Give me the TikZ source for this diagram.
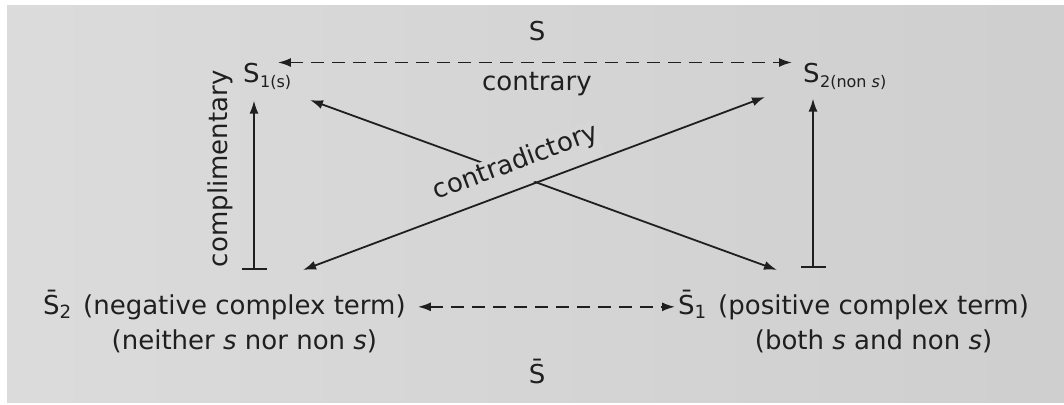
\documentclass[tikz,border=0pt]{standalone}
\usepackage{fontspec}
\setmainfont{DejaVu Sans}
\usepackage{xcolor}
\usepackage{tikz}
\usetikzlibrary{arrows.meta,positioning}
\colorlet{paper}{black!17}
\colorlet{ink}{black!88}
\tikzset{>={Latex[length=13pt,width=9pt]}}

\begin{document}
\begin{tikzpicture}[x=1pt,y=-1pt,font=\fontsize{26}{31}\selectfont,
    term/.style={inner sep=0pt,text=ink},
    subterm/.style={inner sep=0pt,text=ink,font=\fontsize{16}{19}\selectfont},
    link/.style={line width=1.8pt,draw=ink},
    dashlink/.style={link,dash pattern=on 13pt off 8pt}]
        % Page
        \useasboundingbox (0,0) rectangle (1064,404);
        \fill[white] (0,0) rectangle (1064,404);
        \shade[left color=black!14,right color=black!19] (7,6) rectangle (1064,402);
        % Terms
        \node[term,anchor=base] (sTop) at (537,41) {S};
        \node[term,anchor=base west] (s1) at (243,82) {S};
        \node[subterm,anchor=base west] (s1sub) at ([yshift=-5pt]s1.base east) {1(s)};
        \node[term,anchor=base west] (s2) at (803,82) {S};
        \node[subterm,anchor=base west] (s2sub) at ([yshift=-5pt]s2.base east) {2(non \textit{s})};
        \node[term,anchor=base west] (bs2) at (43,314) {\={S}\textsubscript{2}};
        \node[term,base right=11pt of bs2] (neg) {(negative complex term)};
        \node[term,anchor=base] (neither) at ([yshift=-35pt]neg.base) {(neither \textit{s} nor non \textit{s})};
        \node[term,anchor=base west] (bs1) at (678,314) {\={S}\textsubscript{1}};
        \node[term,base right=11pt of bs1] (pos) {(positive complex term)};
        \node[term,anchor=base] (both) at ([yshift=-35pt]pos.base) {(both \textit{s} and non \textit{s})};
        \node[term,anchor=base] (sBot) at (537,383) {\={S}};
        % Free ends
        \coordinate (barL) at (254,270);
        \coordinate (barR) at (813,268);
        \coordinate (ul) at (310,100);
        \coordinate (lr) at (777,270);
        \coordinate (ll) at (303,270);
        \coordinate (ur) at (765,97);
        % Contrary
        \draw[dashlink,<->,shorten <=18pt,shorten >=11pt] (s1.north east) -- (s2.north west)
            node[pos=0.51,below=9pt,term] {contrary};
        \draw[dashlink,<->,shorten <=12pt,shorten >=3pt] (neg.east) -- (neg.east -| bs1.west);
        % Complimentary
        \draw[link,{Bar[width=25pt]}->,shorten >=18pt] (barL) -- (barL |- s1.south)
            node[pos=0.54,sloped,above=20pt,term] {complimentary};
        \draw[link,{Bar[width=25pt]}->,shorten >=16pt] (barR) -- (barR |- s2.south);
        % Contradictory
        \draw[link,<->] (ul) -- (lr);
        \draw[link,<->] (ll) -- (ur)
            node[pos=0.48,sloped,above=1pt,term,fill=black!16,text depth=17pt] {contradictory};
      \end{tikzpicture}
\end{document}
